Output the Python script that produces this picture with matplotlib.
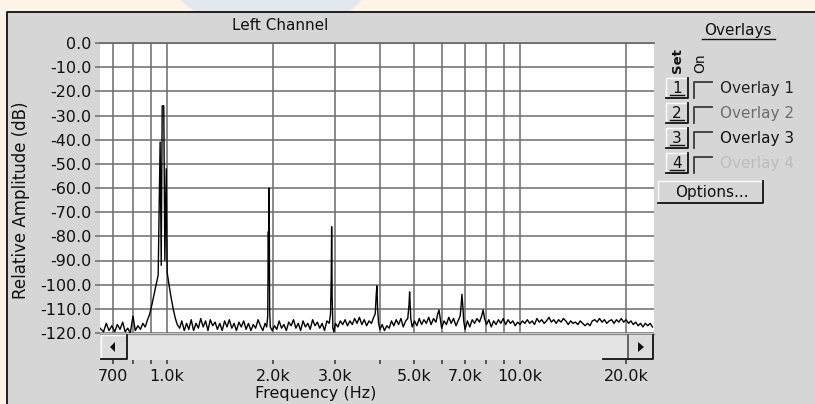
import matplotlib
matplotlib.use("Agg")
import matplotlib.pyplot as plt
from matplotlib.patches import Rectangle, Polygon
from matplotlib.ticker import NullLocator

# ---------------- data ----------------
freq_hz = [
    645, 660, 672, 684, 697, 710, 722, 735, 748, 760, 773, 786, 800, 812, 826, 840, 853, 866, 880,
    893, 906, 918, 930, 943, 955, 962, 968, 978, 985, 994, 1000, 1012, 1025, 1040, 1055, 1068,
    1085, 1100, 1118, 1135, 1152, 1170, 1188, 1207, 1226, 1245, 1265, 1285, 1305, 1325, 1346, 1367,
    1388, 1410, 1432, 1455, 1478, 1500, 1525, 1548, 1572, 1597, 1622, 1648, 1674, 1700, 1727, 1754,
    1781, 1810, 1838, 1867, 1895, 1915, 1928,
    1936, 1941, 1946, 1952, 1960,
    1985, 2015, 2045, 2077, 2110, 2143, 2177, 2211, 2246, 2281, 2317, 2353, 2390, 2428, 2466, 2505,
    2544, 2584, 2625, 2666, 2708, 2750, 2793, 2837, 2880,
    2905, 2918, 2926, 2936, 2950, 2968,
    3000, 3048, 3096, 3145, 3194, 3245, 3296, 3348, 3400, 3454, 3508, 3564, 3620, 3677, 3735, 3794,
    3850, 3890,
    3915, 3932, 3950, 3975,
    4010, 4070, 4130, 4195, 4260, 4325, 4390, 4460, 4530, 4600, 4670, 4745, 4810,
    4850, 4868, 4885, 4905,
    4950, 5025, 5105, 5185, 5265, 5345, 5430, 5515, 5600, 5690, 5780, 5850,
    5898, 5945,
    6000, 6095, 6190, 6285, 6385, 6485, 6590, 6700, 6770,
    6810, 6850, 6890, 6930,
    6990, 7100, 7210, 7325, 7440, 7560, 7680, 7790,
    7865, 7940,
    8040, 8165, 8295, 8425, 8560, 8695, 8830, 8970, 9110, 9255, 9400, 9550, 9700, 9855, 10010, 10170,
    10330, 10495, 10660, 10830, 11000, 11175, 11350, 11530, 11715, 11900, 12090, 12280, 12475, 12675,
    12875, 13080, 13285, 13495, 13710, 13930, 14150, 14375, 14600, 14830, 15065, 15305, 15550, 15795,
    16045, 16300, 16560, 16820, 17090, 17360, 17635, 17915, 18200, 18490, 18780, 19080, 19380, 19690,
    20000, 20320, 20640, 20970, 21300, 21640, 21980, 22330, 22680, 23040, 23400, 23760,
]
level_db = [
    -118, -119.5, -116, -119, -117, -119.5, -116.5, -118.5, -115.5, -119.5, -118, -120, -113, -119, -117, -118.5, -116, -117.5, -114.5,
    -112, -108, -104, -100, -96, -41, -92, -26, -26, -90, -52, -95, -100, -105, -110, -114, -116.5,
    -118, -115, -119, -116, -118.5, -114.5, -119, -116, -118, -114, -117.5, -115, -119, -114.5, -117, -115.5,
    -118.5, -116, -119, -115, -117.5, -114.5, -118, -116, -119, -115.5, -117.5, -115, -118.5, -116, -119, -116.5,
    -118, -114.5, -117, -119, -116, -117.5, -113,
    -78, -98, -60, -110, -117.5,
    -119, -117, -118.5, -115, -118, -116.5, -119, -115.5, -117, -114.5, -118, -116, -119, -115, -117.5, -116,
    -118.5, -114.5, -117, -115.5, -118, -116, -119, -115, -116,
    -112, -98, -76, -105, -118, -119.5,
    -116, -117.5, -115, -116.5, -114.5, -117, -115, -116.5, -114, -116, -113.5, -116.5, -114.5, -117, -115, -116,
    -113.5, -112,
    -104, -100.5, -110, -116,
    -118.5, -116.5, -119, -117, -118, -115, -117, -114.5, -116.5, -114, -117.5, -115, -114,
    -108, -103, -108, -114,
    -117.5, -115, -117, -114, -116.5, -114.5, -116, -113.5, -116.5, -114, -115.5, -112,
    -110.5, -114,
    -118, -115, -116.5, -113.5, -116, -114, -117, -114.5, -113,
    -109, -104, -109, -115,
    -118.5, -115, -117.5, -114.5, -116, -114, -115.5, -113,
    -110.5, -114,
    -116.5, -114.5, -117.5, -115, -116.5, -114.5, -116, -114, -116.5, -114.5, -116, -115, -117, -115.5, -116.5, -115,
    -116, -114.5, -116, -115, -116.5, -114, -115.5, -114.5, -116, -115, -113.5, -115.5, -114.5, -116,
    -114.5, -115.5, -114, -115, -116.5, -115, -116, -115.5, -116.5, -115, -116, -117, -116, -117,
    -115, -114.5, -115.5, -114, -115.5, -114.5, -116, -115, -114.5, -116, -114.5, -115.5, -114, -115.5,
    -114.5, -116, -115, -116.5, -115.5, -117, -116, -117.5, -116, -117, -116, -117.5,
]
assert len(freq_hz) == len(level_db)

grid_freqs = [700, 800, 900, 1000, 2000, 3000, 4000, 5000, 6000, 7000, 8000, 9000, 10000, 20000]
grid_labels = ['700', '', '', '1.0k', '2.0k', '3.0k', '', '5.0k', '', '7.0k', '', '', '10.0k', '20.0k']
db_ticks = [0, -10, -20, -30, -40, -50, -60, -70, -80, -90, -100, -110, -120]
overlay_names = ['Overlay 1', 'Overlay 2', 'Overlay 3', 'Overlay 4']
overlay_colors = ['#222222', '#6e6e6e', '#111111', '#bdbdbd']

# ---------------- figure ----------------
W, H = 815, 404
fig = plt.figure(figsize=(W / 100, H / 100), dpi=100)
fig.patch.set_facecolor('#fdf3e6')
PANEL = '#d6d6d6'
GRID = '#6b6b6b'
FONT = 'DejaVu Sans'


def frac(x0, y0, x1, y1):
    return [x0 / W, 1 - y1 / H, (x1 - x0) / W, (y1 - y0) / H]


def pix_axes(z):
    a = fig.add_axes([0, 0, 1, 1], zorder=z)
    a.set_xlim(0, W)
    a.set_ylim(H, 0)
    a.axis('off')
    a.patch.set_alpha(0)
    return a


bg = pix_axes(0)
bg.add_patch(Polygon([(180, 0), (362, 0), (349, 12), (196, 12)], closed=True, fc='#e3e8ef', ec='none'))
bg.add_patch(Rectangle((7, 12), W - 7, H - 12, fc=PANEL, ec='none'))
bg.plot([7, 7, W], [H, 12, 12], color='#111111', lw=1.3, solid_capstyle='butt')

bg.text(280, 26, 'Left Channel', ha='center', va='center', fontsize=11, family=FONT, color='#111')
bg.text(21, 200, 'Relative Amplitude (dB)', ha='center', va='center', rotation=90,
        fontsize=12, family=FONT, color='#111')
bg.text(316, 386, 'Frequency (Hz)', ha='center', va='top', fontsize=11.5, family=FONT, color='#111')

# ---------------- main plot ----------------
ax = fig.add_axes(frac(100, 43, 654, 333), zorder=2)
ax.set_facecolor('white')
ax.set_xscale('log')
ax.set_xlim(645, 24000)
ax.set_ylim(-120, 0)
ax.plot(freq_hz, level_db, color='black', lw=1.0, zorder=3)
ax.set_xticks(grid_freqs)
ax.xaxis.set_minor_locator(NullLocator())
ax.set_xticklabels([])
ax.set_yticks(db_ticks)
ax.set_yticklabels([f'{v:.1f}' for v in db_ticks])
ax.tick_params(axis='x', length=0)
ax.tick_params(axis='y', length=3.6, width=1.1, color=GRID, pad=2.5, labelsize=11.5,
               labelcolor='#111')
for lab in ax.get_yticklabels():
    lab.set_family(FONT)
ax.grid(True, color=GRID, lw=1.1)
for s in ['left', 'right', 'bottom']:
    ax.spines[s].set_visible(False)
ax.spines['top'].set_color(GRID)
ax.spines['top'].set_linewidth(1.3)

# ---------------- scroll bar / frequency ticks ----------------
sc = fig.add_axes(frac(100, 334, 654, 360), zorder=2)
sc.set_facecolor('#e4e4e4')
sc.set_xscale('log')
sc.set_xlim(645, 24000)
sc.set_ylim(0, 1)
sc.set_yticks([])
sc.set_xticks(grid_freqs)
sc.xaxis.set_minor_locator(NullLocator())
sc.set_xticklabels(grid_labels)
sc.tick_params(axis='x', direction='out', length=3, width=1.1, color='#333333', pad=3.5,
               labelsize=11.5, labelcolor='#111')
for s in ['left', 'right', 'bottom']:
    sc.spines[s].set_visible(False)
sc.spines['top'].set_color('#8a8a8a')
sc.spines['top'].set_linewidth(1.0)

fg = pix_axes(4)
# left scroll button
fg.add_patch(Rectangle((101, 335), 26, 24, fc='#dcdcdc', ec='none'))
fg.plot([101, 101, 127], [359, 335, 335], color='white', lw=1.0)
fg.plot([101, 127, 127], [359, 359, 335], color='#111', lw=1.3)
fg.add_patch(Polygon([(115, 342), (115, 352), (110, 347)], closed=True, fc='#111', ec='none'))
# right scroll button
fg.add_patch(Rectangle((628, 335), 25, 24, fc='#dcdcdc', ec='none'))
fg.plot([628, 628], [335, 359], color='#444', lw=1.1)
fg.plot([603, 653, 653], [359, 359, 335], color='#111', lw=1.3)
fg.add_patch(Polygon([(638, 342), (638, 352), (644, 347)], closed=True, fc='#111', ec='none'))

# ---------------- right side overlay panel ----------------
fg.text(738, 31, 'Overlays', ha='center', va='center', fontsize=11, family=FONT, color='#111')
fg.plot([702, 775], [39, 39], color='#111', lw=1.0)
fg.text(677, 73, 'Set', ha='center', va='bottom', rotation=90, fontsize=9.5, family=FONT,
        color='#111', fontweight='bold')
fg.text(700, 73, 'On', ha='center', va='bottom', rotation=90, fontsize=10, family=FONT,
        color='#111')
for i, (name, col) in enumerate(zip(overlay_names, overlay_colors)):
    cy = 88.5 + 25 * i
    top, bot = cy - 11, cy + 9
    fg.plot([666, 666, 688], [bot, top, top], color='white', lw=1.0)
    fg.plot([666, 688, 688], [bot, bot, top], color='#111', lw=1.3)
    fg.text(677, cy, str(i + 1), ha='center', va='center', fontsize=11, family=FONT, color='#111')
    fg.plot([670, 684], [cy + 6, cy + 6], color='#111', lw=1.0)
    fg.plot([694, 694, 712], [cy + 9, cy - 7, cy - 7], color='#3a3a3a', lw=1.3)
    fg.text(720, cy, name, ha='left', va='center', fontsize=11, family=FONT, color=col)

fg.plot([658, 658, 763], [203, 181, 181], color='white', lw=1.0)
fg.plot([658, 763, 763], [203, 203, 181], color='#111', lw=1.3)
fg.text(712, 193, 'Options...', ha='center', va='center', fontsize=11, family=FONT, color='#111')

fig.savefig('out.png', dpi=100, facecolor=fig.get_facecolor())
